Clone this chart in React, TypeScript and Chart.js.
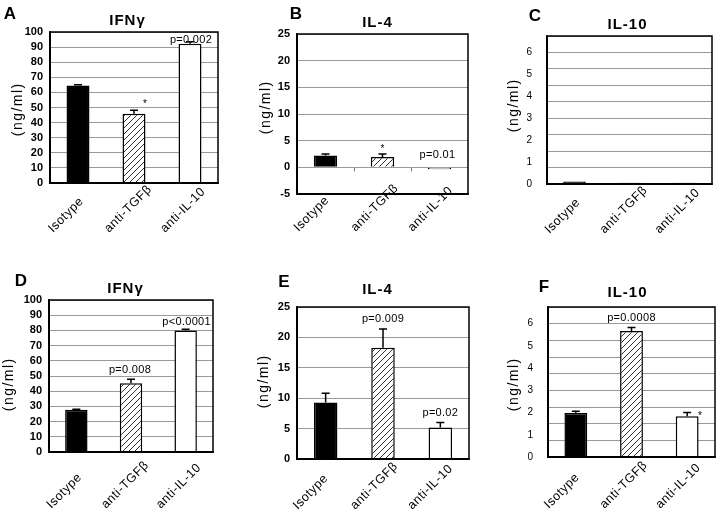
import React, { useEffect, useRef } from 'react';
import { Chart, registerables } from 'chart.js';

Chart.register(...registerables);

// ---------- data ----------
const CATEGORIES = ['Isotype', 'anti-TGFβ', 'anti-IL-10'];

const A_VALUES = [64.5, 45.8, 92.2];
const A_ERRORS = [0.5, 2.3, 1.3];
const B_VALUES = [2.2, 1.95, -0.35];
const B_ERRORS = [0.3, 0.55, 0];
const C_VALUES = [0.11, 0.06, 0.06];
const C_ERRORS = [0, 0, 0];
const D_VALUES = [27.8, 45.3, 79.9];
const D_ERRORS = [0.4, 2.6, 0.8];
const E_VALUES = [9.3, 18.3, 5.2];
const E_ERRORS = [1.5, 3.1, 0.8];
const F_VALUES = [1.98, 5.67, 1.83];
const F_ERRORS = [0.08, 0.16, 0.17];

const IFN_TICKS = [0, 10, 20, 30, 40, 50, 60, 70, 80, 90, 100];
const IL4_TICKS = [-5, 0, 5, 10, 15, 20, 25];
const IL10_TICKS = [0, 1, 2, 3, 4, 5, 6];
const IL10_GRID = [0, 0.75, 1.5, 2.25, 3, 3.75, 4.5, 5.25, 6, 6.75];

type Note = { bar: number; text: string; dx: number; dy: number; star?: boolean };

const FONT = '"Liberation Sans", Arial, Helvetica, sans-serif';
const Y_W = 30;

type Panel = {
  letter: string;
  title: string;
  values: number[];
  errors: number[];
  labels: number[];
  grid: number[];
  min: number;
  max: number;
  colX: number;
  rowY: number;
  h: number;
  area: { l: number; t: number; r: number; b: number };
  letterPos: [number, number];
  titlePos: [number, number];
  yTitlePos: [number, number];
  tickPad: number;
  tickFont: { size: number; weight: string };
  xLab: [number, number];
  notes: Note[];
  zeroTicks?: boolean;
};

const PANELS: Panel[] = [
  {
    letter: 'A', title: 'IFNγ', values: A_VALUES, errors: A_ERRORS, labels: IFN_TICKS, grid: IFN_TICKS,
    min: 0, max: 100, colX: 0, rowY: 0, h: 250, area: { l: 50, t: 32, r: 218, b: 183 },
    letterPos: [10, 14], titlePos: [127, 21], yTitlePos: [18, 110], tickPad: 7,
    tickFont: { size: 11, weight: 'bold' }, xLab: [-25, 233],
    notes: [
      { bar: 2, text: 'p=0.002', dx: 1, dy: -2 },
      { bar: 1, text: '*', dx: 11, dy: -9, star: true },
    ],
  },
  {
    letter: 'B', title: 'IL-4', values: B_VALUES, errors: B_ERRORS, labels: IL4_TICKS, grid: IL4_TICKS,
    min: -5, max: 25, colX: 240, rowY: 0, h: 250, area: { l: 297, t: 34, r: 468, b: 194 },
    letterPos: [296, 14], titlePos: [377, 23], yTitlePos: [266, 108], tickPad: 7,
    tickFont: { size: 11, weight: 'bold' }, xLab: [-27, 232],
    notes: [
      { bar: 1, text: '*', dx: 0, dy: -8, star: true },
      { bar: 2, text: 'p=0.01', dx: -2, dy: -12 },
    ],
    zeroTicks: true,
  },
  {
    letter: 'C', title: 'IL-10', values: C_VALUES, errors: C_ERRORS, labels: IL10_TICKS, grid: IL10_GRID,
    min: 0, max: 6.75, colX: 480, rowY: 0, h: 250, area: { l: 547, t: 36, r: 712, b: 184 },
    letterPos: [535, 16], titlePos: [627, 25], yTitlePos: [514, 106], tickPad: 15,
    tickFont: { size: 10, weight: 'normal' }, xLab: [-25, 234],
    notes: [],
  },
  {
    letter: 'D', title: 'IFNγ', values: D_VALUES, errors: D_ERRORS, labels: IFN_TICKS, grid: IFN_TICKS,
    min: 0, max: 100, colX: 0, rowY: 250, h: 266, area: { l: 49, t: 300, r: 213, b: 452 },
    letterPos: [21, 281], titlePos: [125, 289], yTitlePos: [9, 385], tickPad: 7,
    tickFont: { size: 11, weight: 'bold' }, xLab: [-25, 509],
    notes: [
      { bar: 1, text: 'p=0.008', dx: -1, dy: -9 },
      { bar: 2, text: 'p<0.0001', dx: 1, dy: -7 },
    ],
  },
  {
    letter: 'E', title: 'IL-4', values: E_VALUES, errors: E_ERRORS, labels: IL4_TICKS.filter((v) => v >= 0), grid: IL4_TICKS.filter((v) => v >= 0),
    min: 0, max: 25, colX: 240, rowY: 250, h: 266, area: { l: 297, t: 307, r: 469, b: 459 },
    letterPos: [284, 282], titlePos: [377, 290], yTitlePos: [264, 382], tickPad: 7,
    tickFont: { size: 11, weight: 'bold' }, xLab: [-28, 510],
    notes: [
      { bar: 1, text: 'p=0.009', dx: 0, dy: -10 },
      { bar: 2, text: 'p=0.02', dx: 0, dy: -10 },
    ],
  },
  {
    letter: 'F', title: 'IL-10', values: F_VALUES, errors: F_ERRORS, labels: IL10_TICKS, grid: IL10_GRID,
    min: 0, max: 6.75, colX: 480, rowY: 250, h: 266, area: { l: 548, t: 307, r: 715, b: 457 },
    letterPos: [544, 287], titlePos: [627, 293], yTitlePos: [514, 385], tickPad: 15,
    tickFont: { size: 10, weight: 'normal' }, xLab: [-27, 509],
    notes: [
      { bar: 1, text: 'p=0.0008', dx: 0, dy: -9 },
      { bar: 2, text: '*', dx: 13, dy: 1, star: true },
    ],
  },
];

function makeHatch(): CanvasPattern | string {
  const s = 6;
  const c = document.createElement('canvas');
  c.width = s;
  c.height = s;
  const g = c.getContext('2d');
  if (!g) return '#fff';
  g.fillStyle = '#fff';
  g.fillRect(0, 0, s, s);
  g.strokeStyle = '#333';
  g.lineWidth = 1;
  g.beginPath();
  g.moveTo(0, s);
  g.lineTo(s, 0);
  g.moveTo(-1, 1);
  g.lineTo(1, -1);
  g.moveTo(s - 1, s + 1);
  g.lineTo(s + 1, s - 1);
  g.stroke();
  return g.createPattern(c, 'repeat') || '#fff';
}

function PanelChart({ p }: { p: Panel }) {
  const ref = useRef<HTMLCanvasElement | null>(null);
  useEffect(() => {
    if (!ref.current) return;
    const ox = p.colX;
    const oy = p.rowY;
    const W = 240;
    const loc = (pt: [number, number]): [number, number] => [pt[0] - ox, pt[1] - oy];
    const tickSet = Array.from(new Set([...p.labels, ...p.grid])).sort((a, b) => a - b);

    const panelPlugin = {
      id: 'panelDecor',
      afterDatasetsDraw(chart: any) {
        const ctx = chart.ctx;
        const xs = chart.scales.x;
        const ys = chart.scales.y;
        ctx.save();
        ctx.strokeStyle = '#000';
        ctx.lineWidth = 1.5;
        p.values.forEach((v, i) => {
          const e = p.errors[i];
          if (!e) return;
          const x = xs.getPixelForValue(i);
          const y0 = ys.getPixelForValue(v);
          const y1 = ys.getPixelForValue(v + e);
          ctx.beginPath();
          ctx.moveTo(x, y0);
          ctx.lineTo(x, y1);
          ctx.moveTo(x - 4, y1);
          ctx.lineTo(x + 4, y1);
          ctx.stroke();
        });
        ctx.restore();
      },
      afterDraw(chart: any) {
        const ctx = chart.ctx;
        const a = chart.chartArea;
        const xs = chart.scales.x;
        const ys = chart.scales.y;
        ctx.save();
        // frame
        ctx.strokeStyle = '#000';
        ctx.lineWidth = 1.5;
        ctx.strokeRect(a.left, a.top, a.right - a.left, a.bottom - a.top);
        ctx.lineWidth = 2;
        ctx.beginPath();
        ctx.moveTo(a.left, a.top - 0.75);
        ctx.lineTo(a.left, a.bottom);
        ctx.lineTo(a.right + 0.75, a.bottom);
        ctx.stroke();
        if (p.zeroTicks) {
          const yz = ys.getPixelForValue(0);
          const step = (a.right - a.left) / CATEGORIES.length;
          ctx.strokeStyle = '#777';
          ctx.lineWidth = 1;
          ctx.beginPath();
          for (let k = 1; k < CATEGORIES.length; k++) {
            const x = Math.round(xs.getPixelForValue(k) - step / 2) + 0.5;
            ctx.moveTo(x, yz);
            ctx.lineTo(x, yz + 4);
          }
          ctx.stroke();
        }
        ctx.fillStyle = '#000';
        // panel letter
        ctx.font = `bold 17px ${FONT}`;
        ctx.textAlign = 'center';
        ctx.textBaseline = 'middle';
        const lp = loc(p.letterPos);
        ctx.fillText(p.letter, lp[0], lp[1]);
        // title
        ctx.font = `bold 15px ${FONT}`;
        (ctx as any).letterSpacing = '1px';
        const tp = loc(p.titlePos);
        ctx.fillText(p.title, tp[0] + 0.5, tp[1]);
        // y title
        ctx.font = `14px ${FONT}`;
        (ctx as any).letterSpacing = '1.5px';
        const yp = loc(p.yTitlePos);
        ctx.save();
        ctx.translate(yp[0], yp[1]);
        ctx.rotate(-Math.PI / 2);
        ctx.fillText('(ng/ml)', 0.75, 0);
        ctx.restore();
        // x labels (bottom-aligned, reading upward at 45 degrees)
        ctx.font = `12.5px ${FONT}`;
        (ctx as any).letterSpacing = '0.5px';
        ctx.textAlign = 'left';
        ctx.textBaseline = 'alphabetic';
        CATEGORIES.forEach((c, i) => {
          const x = xs.getPixelForValue(i) + p.xLab[0];
          const y = p.xLab[1] - oy;
          ctx.save();
          ctx.translate(x, y);
          ctx.rotate(-Math.PI / 4);
          ctx.fillText(c, 0, 0);
          ctx.restore();
        });
        // annotations
        (ctx as any).letterSpacing = '0.3px';
        ctx.textAlign = 'center';
        ctx.textBaseline = 'middle';
        p.notes.forEach((n) => {
          const top = Math.max(p.values[n.bar] + p.errors[n.bar], 0);
          const x = xs.getPixelForValue(n.bar) + n.dx;
          const y = ys.getPixelForValue(top) + n.dy;
          ctx.font = n.star ? `10px ${FONT}` : `11px ${FONT}`;
          ctx.fillText(n.text, x, y + (n.star ? 3 : 0));
        });
        ctx.restore();
      },
    };

    const chart = new Chart(ref.current, {
      type: 'bar',
      data: {
        labels: CATEGORIES,
        datasets: [
          {
            data: p.values,
            backgroundColor: ['#000', makeHatch() as any, '#fff'],
            borderColor: '#000',
            borderWidth: 1.5,
            barPercentage: 0.41,
            categoryPercentage: 1,
          },
        ],
      },
      options: {
        animation: false,
        responsive: false,
        maintainAspectRatio: false,
        events: [],
        layout: {
          padding: {
            left: p.area.l - ox - Y_W,
            right: ox + W - p.area.r,
            top: p.area.t - oy,
            bottom: oy + p.h - p.area.b,
          },
        },
        plugins: { legend: { display: false }, tooltip: { enabled: false }, title: { display: false } },
        scales: {
          x: {
            ticks: { display: false },
            grid: { display: false, drawTicks: false },
            border: { display: false },
            afterFit: (s: any) => {
              s.height = 0;
            },
          },
          y: {
            min: p.min,
            max: p.max,
            afterBuildTicks: (s: any) => {
              s.ticks = tickSet.map((v) => ({ value: v }));
            },
            afterFit: (s: any) => {
              s.width = Y_W;
            },
            ticks: {
              autoSkip: false,
              padding: p.tickPad,
              color: '#000',
              font: { family: FONT, size: p.tickFont.size, weight: p.tickFont.weight as any },
              callback: (v: any) => (p.labels.includes(Number(v)) ? String(v) : ''),
            },
            grid: {
              drawTicks: false,
              lineWidth: 1,
              color: (c: any) => (c.tick && p.grid.includes(c.tick.value) ? '#9a9a9a' : 'rgba(0,0,0,0)'),
            },
            border: { display: false },
          },
        },
      },
      plugins: [panelPlugin],
    });
    return () => chart.destroy();
  }, [p]);

  return (
    <canvas
      ref={ref}
      width={240}
      height={p.h}
      style={{ position: 'absolute', left: p.colX, top: p.rowY, width: 240, height: p.h }}
    />
  );
}

export default function App() {
  return (
    <div style={{ position: 'absolute', left: 0, top: 0, width: 720, height: 516, background: '#fff', overflow: 'hidden' }}>
      {PANELS.map((p) => (
        <PanelChart key={p.letter} p={p} />
      ))}
    </div>
  );
}
